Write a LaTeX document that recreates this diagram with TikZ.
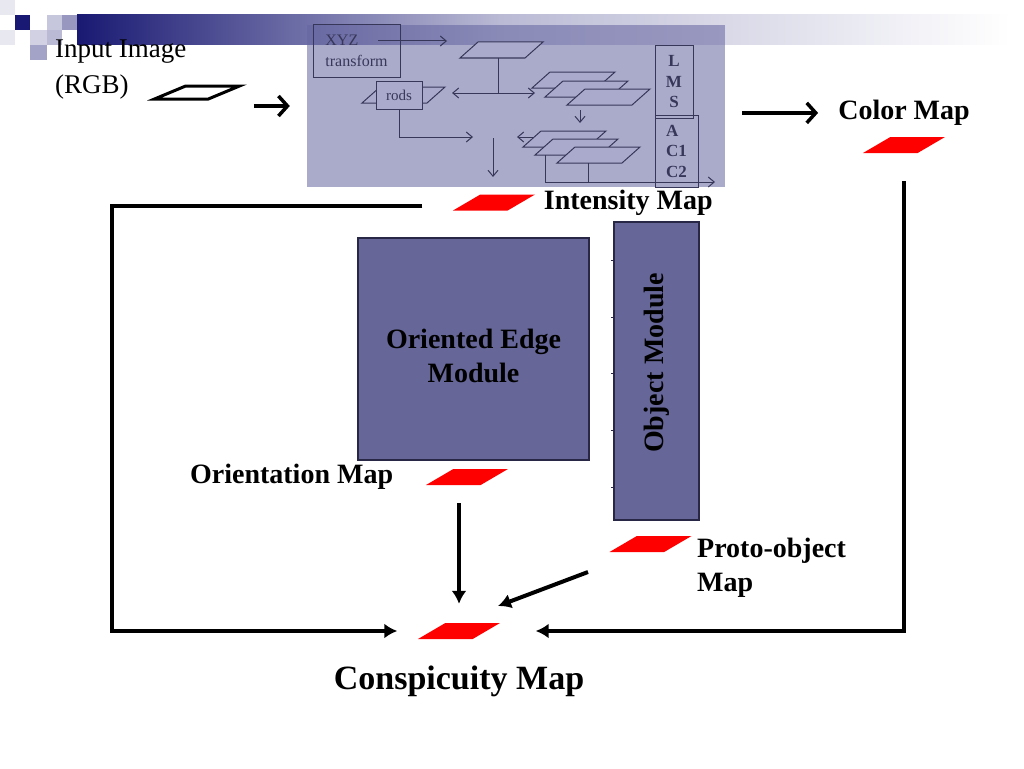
\documentclass[tikz,border=0pt]{standalone}
\usepackage{fontspec}
\setmainfont{Liberation Serif}
\usetikzlibrary{positioning,shapes.geometric,arrows.meta}

\definecolor{mapred}{RGB}{255,0,0}
\definecolor{modfill}{RGB}{102,102,153}
\definecolor{modline}{RGB}{40,40,70}
\definecolor{netfill}{RGB}{100,100,160}
\definecolor{netline}{RGB}{55,55,90}
\definecolor{planefill}{RGB}{170,170,204}
\definecolor{navy}{RGB}{25,25,115}

\tikzset{
  lbl/.style={font=\bfseries\fontsize{28}{34}\selectfont, inner sep=0pt},
  biglbl/.style={font=\bfseries\fontsize{34}{40}\selectfont, inner sep=0pt},
  txt/.style={font=\fontsize{27}{36}\selectfont, inner sep=0pt},
  netbox/.style={draw=netline, line width=1pt, inner sep=0pt, text=netline, font=\fontsize{16}{21}\selectfont},
  netbf/.style={font=\bfseries\fontsize{17}{20.5}\selectfont},
  map/.style={trapezium, trapezium left angle=45, trapezium right angle=135,
    trapezium stretches=true, minimum width=82pt, minimum height=16pt,
    inner sep=1pt, fill=mapred},
  module/.style={draw=modline, fill=modfill, line width=1.2pt, inner sep=0pt},
  flow/.style={line width=4pt, -{Latex[length=13pt,width=15pt]}},
  barb/.style={line width=3.5pt, -{Straight Barb[length=9pt,width=20pt]}},
  netln/.style={netline, line width=1pt},
  netarr/.style={-{Straight Barb[length=6pt,width=10pt]}},
  plane/.pic={\filldraw[netln, fill=planefill] (0,0) -- (18,-16) -- (83,-16) -- (65,0) -- cycle;}
}

\begin{document}
\begin{tikzpicture}[x=1pt,y=-1pt]
\useasboundingbox (0,0) rectangle (1024,768);
% title bar and corner squares
\fill[navy!10] (0,0) rectangle (15,15);
\fill[navy!10] (0,30) rectangle (15,45);
\fill[navy] (15,15) rectangle (30,30);
\fill[navy!25] (47,15) rectangle (62,30);
\fill[navy!45] (62,15) rectangle (77,30);
\fill[navy!20] (30,30) rectangle (47,45);
\fill[navy!30] (47,30) rectangle (62,45);
\fill[navy!40] (30,45) rectangle (47,60);
\shade[left color=navy, right color=navy!30] (77,15) rectangle (500,45);
\shade[left color=navy!30, right color=white] (500,15) rectangle (1010,45);

% input image
\node[txt, align=left, anchor=north west] (inlbl) at (55,40) {Input Image\\(RGB)};
\node[draw, line width=3pt, trapezium, trapezium left angle=36, trapezium right angle=144,
  trapezium stretches=true, minimum width=85pt, minimum height=13pt, inner sep=1pt] (inshape) at (197,92.5) {};

% colour stage
\node[fill=netfill, fill opacity=0.55, minimum width=418pt, minimum height=162pt, inner sep=0pt] (colorstage) at (516,106) {};
\node[netbox, minimum width=87pt, minimum height=52pt, align=left] (xyz) at (356.5,51) {XYZ\\transform};
\draw[netln, netarr] (378,41) -- (447,41);
\pic at (460,58) {plane};
\draw[netln] (498,58) -- (498,93);
\draw[netln, {Straight Barb[length=6pt,width=10pt]}-{Straight Barb[length=6pt,width=10pt]}] (452,93) -- (535,93);
\pic at (362,103) {plane};
\node[netbox, fill=planefill, minimum width=46pt, minimum height=28pt, font=\fontsize{15}{18}\selectfont] (rods) at (399,95) {rods};
\draw[netln, netarr] (rods.south) |- (473,137);
\foreach \px/\py in {532/88, 545/97, 567/105, 523/147, 535/155, 557/163}
  \pic at (\px,\py) {plane};
\draw[netln, netarr] (533,137) -- (517,137);
\draw[netln, netarr] (493,138) -- (493,177);
\draw[netln, netarr] (580,110) -- (580,123);
\draw[netln] (588,163) -- (588,182);
\draw[netln, netarr] (545,155) -- (545,182) -- (715,182);
\node[netbox, netbf, minimum width=38pt, minimum height=72pt, align=center] (lms) at (674,82) {L\\M\\S};
\node[netbox, netbf, minimum width=43pt, minimum height=72pt, align=left] (acc) at (676.5,151) {A\\C1\\C2};

% maps
\node[map] (intmap) at (494,202.5) {};
\node[map] (colormap) at (904,145) {};
\node[map] (orientmap) at (467,477) {};
\node[map] (protomap) at (650.5,544) {};
\node[map] (conspic) at (459,631) {};
\node[lbl, right=22pt of intmap] (intlbl) {Intensity Map};
\node[lbl, above=11pt of colormap] (colorlbl) {Color Map};
\node[lbl, left=46pt of orientmap] (orientlbl) {Orientation Map};
\node[lbl, align=left, anchor=north west] (protolbl) at (697,538) {Proto-object\\Map};
\node[biglbl, below=26pt of conspic] (conslbl) {Conspicuity Map};

% modules
\node[module, minimum width=231pt, minimum height=222pt] (edgemod) at (473.5,349) {};
\node[lbl, align=center] at ([yshift=-7pt]edgemod.center) {Oriented Edge\\Module};
\node[module, minimum width=85pt, minimum height=298pt, lbl] (objmod) at (656.5,371) {\rotatebox{90}{\hspace{16pt}Object Module}};
\foreach \ty in {260,317,373,430,487}
  \draw[modline, line width=1pt] (611,\ty) -- (objmod.west |- 0,\ty);

% connectors
\draw[barb, shorten <=26pt, shorten >=17pt] (inshape.east |- colorstage.west) -- (colorstage.west);
\draw[barb, shorten <=17pt, shorten >=20pt] (colorstage.east |- colorlbl.west) -- (colorlbl.west);
\coordinate (lcorner) at (112,206);
\draw[flow, shorten <=44pt, shorten >=34pt] (intmap.west |- lcorner) -- (lcorner) |- (conspic.west);
\draw[flow, shorten <=28pt, shorten >=49pt] (colormap.south) |- (conspic.east);
\draw[flow, shorten <=18pt, shorten >=19pt] (orientmap.south -| conspic.north) -- (conspic.north);
\coordinate (protoout) at (588,572);
\coordinate (consin) at (498,606);
\draw[flow] (protoout) -- (consin);
\end{tikzpicture}
\end{document}
